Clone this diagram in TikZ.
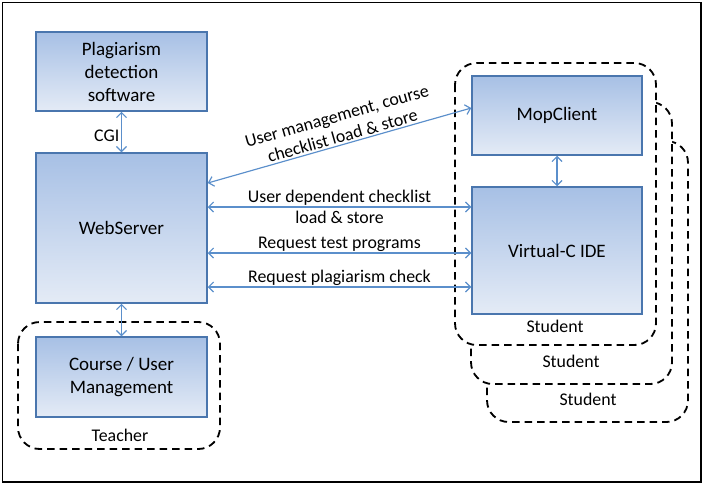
\documentclass[tikz,border=0pt]{standalone}
\usepackage{fontspec}
\setmainfont{Carlito}
\usetikzlibrary{arrows.meta}

\definecolor{boxline}{HTML}{4A76AE}
\definecolor{boxtop}{HTML}{A7C0E5}
\definecolor{boxbot}{HTML}{E4EBF6}
\definecolor{linkblue}{HTML}{5B8FCB}

\tikzset{
  comp/.style={draw=boxline, line width=0.9pt, top color=boxtop, bottom color=boxbot,
    inner sep=0pt, align=center, font=\fontsize{11.4}{13.8}\selectfont},
  link/.style={draw=linkblue, line width=0.7pt,
    {Straight Barb[length=3pt,width=6pt]}-{Straight Barb[length=3pt,width=6pt]}},
  group/.style={draw=black, line width=1.1pt, dash pattern=on 4.5pt off 3pt, rounded corners=13pt},
  lbl/.style={font=\fontsize{10.7}{12.4}\selectfont, align=center, inner sep=1pt}
}

\begin{document}
\begin{tikzpicture}[x=0.6pt,y=-0.6pt]
\useasboundingbox (0,0) rectangle (705,484);
\draw[line width=1pt] (2.5,2.5) rectangle (701,482);

% student groups, back to front
\draw[group,fill=white] (487,141) rectangle (688,422);
\draw[group,fill=white] (471,102) rectangle (672,384);
\draw[group,fill=white] (455,63) rectangle (656,345);
\node[lbl] (stud3) at (588,399) {Student};
\node[lbl] (stud2) at (571,361) {Student};
\node[lbl] (stud1) at (555,326) {Student};

% teacher group
\draw[group] (18,322) rectangle (220,449);
\node[lbl] (teacher) at (120,435) {Teacher};

% components
\node[comp,minimum width=102.6pt,minimum height=47.4pt] (plag) at (121.5,71.5) {Plagiarism\\detection\\software};
\node[comp,minimum width=102.6pt,minimum height=90pt] (web) at (121.5,228) {WebServer};
\node[comp,minimum width=102.6pt,minimum height=48pt] (course) at (121.5,377) {Course / User\\Management};
\node[comp,minimum width=102pt,minimum height=47.4pt] (mop) at (557,115.5) {MopClient};
\node[comp,minimum width=102pt,minimum height=76.2pt] (ide) at (557,250.5) {Virtual-C IDE};

% links
\draw[link] (plag) -- node[lbl,left,pos=0.6] (cgi) {CGI} (web);
\draw[link] (web) -- (course);
\draw[link] (mop) -- (ide);
\draw[link] ([yshift=27pt]web.east) -- node[lbl,pos=0.52,above,sloped] (mgmt) {User management, course\\checklist load \& store} ([yshift=4.5pt]mop.west);

\coordinate (r1) at ([yshift=12.6pt]web.east);
\coordinate (r2) at ([yshift=-15pt]web.east);
\coordinate (r3) at ([yshift=-35.4pt]web.east);
\draw[link] (r1) -- node[lbl,midway] (chk) {User dependent checklist\\load \& store} (r1 -| ide.west);
\draw[link] (r2) -- node[lbl,midway,above,inner sep=0.5pt] (tests) {Request test programs} (r2 -| ide.west);
\draw[link] (r3) -- node[lbl,midway,above,inner sep=0.5pt] (plagchk) {Request plagiarism check} (r3 -| ide.west);
\end{tikzpicture}
\end{document}
